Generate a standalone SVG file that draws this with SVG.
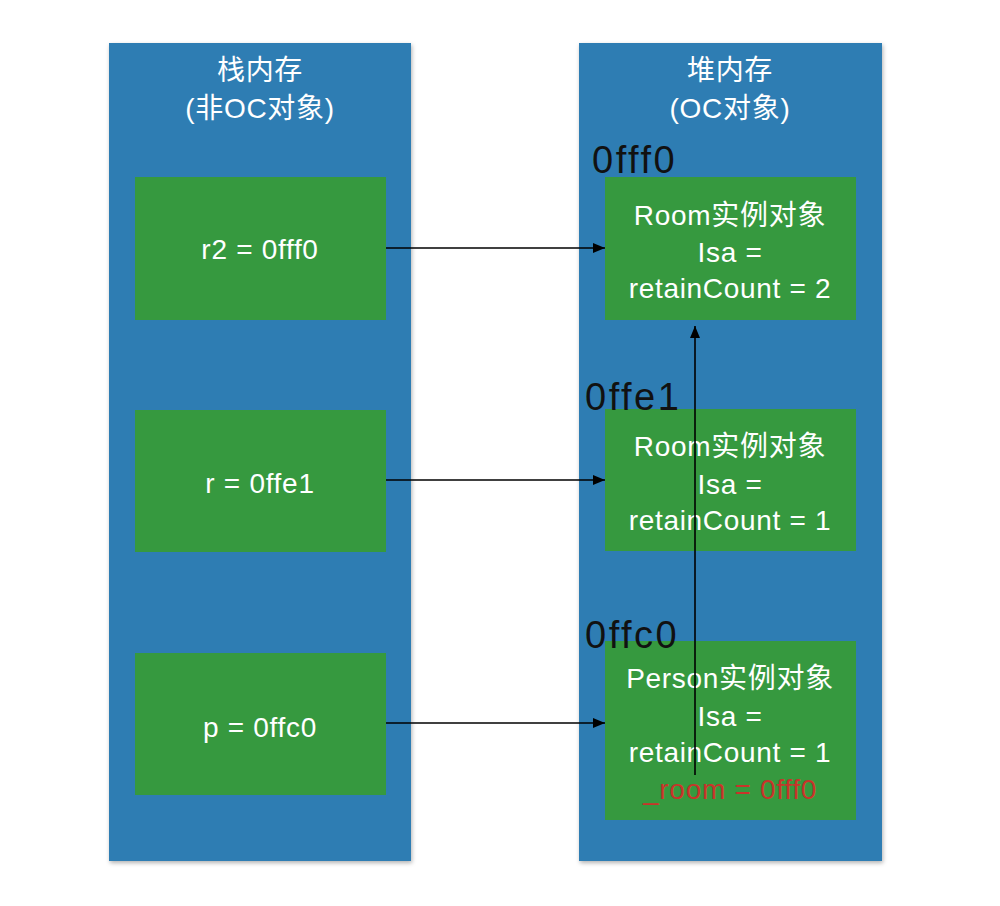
<svg xmlns="http://www.w3.org/2000/svg" width="1000" height="906" viewBox="0 0 1000 906">
<defs>
<style>
.col{fill:#2f7db3;}
.box{fill:#36993f;}
.t{font-family:"Liberation Sans","Noto Sans CJK SC",sans-serif;font-size:28px;letter-spacing:0.7px;fill:#ffffff;text-anchor:middle;}
.addr{font-family:"Liberation Sans",sans-serif;font-size:38px;letter-spacing:2.5px;fill:#111111;}
.red{fill:#c8342a;}
.conn{stroke:#000000;stroke-width:1.6;fill:none;}
</style>
<filter id="sh" x="-5%" y="-5%" width="110%" height="110%">
<feDropShadow dx="1" dy="2" stdDeviation="2" flood-color="#000" flood-opacity="0.3"/>
</filter>
<marker id="ah" viewBox="0 0 12 10" refX="12" refY="5" markerWidth="12" markerHeight="10" markerUnits="userSpaceOnUse" orient="auto">
<path d="M0,0 L12,5 L0,10 z" fill="#000"/>
</marker>
</defs>
<rect width="1000" height="906" fill="#ffffff"/>
<g id="stack">
<rect class="col" x="109" y="43" width="302" height="818" filter="url(#sh)"/>
<text class="t" x="260" y="80">栈内存</text>
<text class="t" x="260" y="118">(非OC对象)</text>
</g>
<g id="heap">
<rect class="col" x="579" y="43" width="303" height="818" filter="url(#sh)"/>
<text class="t" x="730" y="80">堆内存</text>
<text class="t" x="730" y="118">(OC对象)</text>
</g>
<g id="r2">
<rect class="box" x="135" y="177" width="251" height="143"/>
<text class="t" x="260" y="259">r2 = 0fff0</text>
</g>
<g id="r">
<rect class="box" x="135" y="410" width="251" height="142"/>
<text class="t" x="260" y="493">r = 0ffe1</text>
</g>
<g id="p">
<rect class="box" x="135" y="653" width="251" height="142"/>
<text class="t" x="260" y="737">p = 0ffc0</text>
</g>
<g id="room1">
<rect class="box" x="605" y="177" width="251" height="143"/>
<text class="addr" x="592" y="173">0fff0</text>
<text class="t" x="730" y="225">Room实例对象</text>
<text class="t" x="730" y="262">Isa =</text>
<text class="t" x="730" y="298">retainCount = 2</text>
</g>
<g id="room2">
<rect class="box" x="605" y="409" width="251" height="142"/>
<text class="addr" x="585" y="410">0ffe1</text>
<text class="t" x="730" y="456">Room实例对象</text>
<text class="t" x="730" y="494">Isa =</text>
<text class="t" x="730" y="530">retainCount = 1</text>
</g>
<g id="person">
<rect class="box" x="605" y="641" width="251" height="179"/>
<text class="addr" x="585" y="648">0ffc0</text>
<text class="t" x="730" y="688">Person实例对象</text>
<text class="t" x="730" y="726">Isa =</text>
<text class="t" x="730" y="762">retainCount = 1</text>
<text class="t red" x="730" y="799">_room = 0fff0</text>
</g>
<g id="connectors">
<line class="conn" x1="386" y1="248" x2="605" y2="248" marker-end="url(#ah)"/>
<line class="conn" x1="386" y1="480" x2="605" y2="480" marker-end="url(#ah)"/>
<line class="conn" x1="386" y1="723" x2="605" y2="723" marker-end="url(#ah)"/>
<line class="conn" x1="695" y1="775" x2="695" y2="326" marker-end="url(#ah)"/>
</g>
</svg>
